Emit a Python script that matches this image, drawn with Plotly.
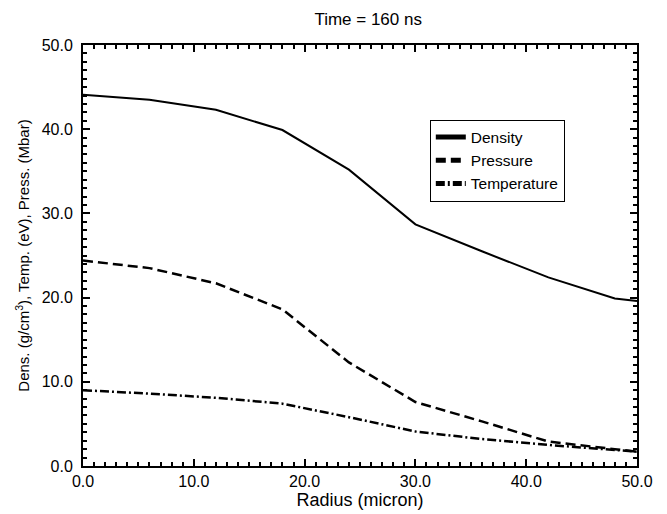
import plotly.graph_objects as go

radius = [0, 6, 12, 18, 24, 30, 36, 42, 48, 50]
density = [44.1, 43.5, 42.3, 39.9, 35.2, 28.7, 25.5, 22.4, 19.9, 19.6]
pressure = [24.4, 23.5, 21.7, 18.6, 12.3, 7.6, 5.3, 2.9, 2.0, 1.7]
temperature = [9.0, 8.6, 8.1, 7.4, 5.8, 4.1, 3.2, 2.5, 1.9, 1.7]

x_ticks = [0, 10, 20, 30, 40, 50]
y_ticks = [0, 10, 20, 30, 40, 50]
x_labels = [f"{v:.1f}" for v in x_ticks]
y_labels = [f"{v:.1f}" for v in y_ticks]

font = "Liberation Sans, Arial, Helvetica, sans-serif"

fig = go.Figure()
fig.add_trace(go.Scatter(x=radius, y=density, mode="lines", name="Density",
                         line=dict(color="black", width=2, dash="solid")))
fig.add_trace(go.Scatter(x=radius, y=pressure, mode="lines", name="Pressure",
                         line=dict(color="black", width=2.5, dash="10px,5px")))
fig.add_trace(go.Scatter(x=radius, y=temperature, mode="lines", name="Temperature",
                         line=dict(color="black", width=2.5, dash="9px,3px,2px,3px")))

axis_common = dict(
    showline=True, linecolor="black", linewidth=2, mirror="allticks",
    ticks="inside", ticklen=7, tickwidth=2, tickcolor="black",
    showgrid=False, zeroline=False, automargin=False,
    tickfont=dict(family=font, size=16, color="black"),
    minor=dict(ticks="inside", ticklen=4, tickwidth=1.5, tickcolor="black", dtick=1),
)

fig.update_layout(
    width=667, height=514,
    margin=dict(l=75, r=38, t=37, b=56),
    paper_bgcolor="white", plot_bgcolor="white",
    title=dict(text="Time = 160 ns", x=0.54, xanchor="center", y=0.99, yanchor="top",
               font=dict(family=font, size=17, color="black")),
    font=dict(family=font, color="black"),
    xaxis=dict(range=[0, 50], tickmode="array", tickvals=x_ticks, ticktext=x_labels,
               title=dict(text="Radius (micron)", font=dict(family=font, size=18, color="black"), standoff=0),
               **axis_common),
    yaxis=dict(range=[0, 50], tickmode="array", tickvals=y_ticks, ticktext=y_labels,
               ticklabelstandoff=5,
               title=dict(text="Dens. (g/cm<sup>3</sup>), Temp. (eV), Press. (Mbar)",
                          font=dict(family=font, size=15, color="black"), standoff=8),
               **axis_common),
    legend=dict(x=0.626, y=0.823, xanchor="left", yanchor="top",
                bgcolor="white", bordercolor="black", borderwidth=1,
                font=dict(family=font, size=15.5, color="black"),
                tracegroupgap=0, itemsizing="constant"),
    showlegend=True,
)

fig.write_html("out.html")
